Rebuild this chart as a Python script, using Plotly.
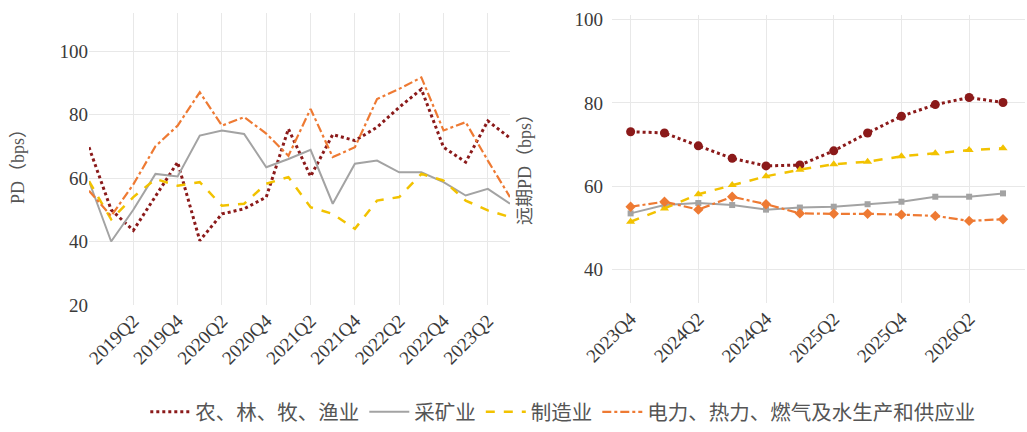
import plotly.graph_objects as go

# ---- data ----
hist_quarters = ["2018Q4", "2019Q1", "2019Q2", "2019Q3", "2019Q4", "2020Q1", "2020Q2",
                 "2020Q3", "2020Q4", "2021Q1", "2021Q2", "2021Q3", "2021Q4", "2022Q1",
                 "2022Q2", "2022Q3", "2022Q4", "2023Q1", "2023Q2", "2023Q3"]
fcst_quarters = ["2023Q4", "2024Q1", "2024Q2", "2024Q3", "2024Q4", "2025Q1",
                 "2025Q2", "2025Q3", "2025Q4", "2026Q1", "2026Q2", "2026Q3"]

hist_tick_labels = ["2019Q2", "2019Q4", "2020Q2", "2020Q4", "2021Q2", "2021Q4",
                    "2022Q2", "2022Q4", "2023Q2"]
fcst_tick_labels = ["2023Q4", "2024Q2", "2024Q4", "2025Q2", "2025Q4", "2026Q2"]

series_names = ["农、林、牧、渔业", "采矿业", "制造业", "电力、热力、燃气及水生产和供应业"]

hist_agri = [69.7, 50, 43.5, 54.2, 65, 40.3, 48.7, 50.3, 54, 75.5,
             60.5, 73.7, 71.8, 76, 82.3, 88, 69.7, 65, 78, 72.6]
hist_mining = [59, 40, 50, 61.3, 60.5, 73.4, 75, 73.9, 63.4, 66,
               68.9, 51.9, 64.5, 65.5, 61.8, 61.8, 58.7, 54.5, 56.6, 51.9]
hist_manuf = [59, 47, 54, 59.7, 57.6, 58.7, 51.3, 51.9, 58.2, 60.3,
              50.8, 48.7, 44, 52.9, 54, 61.3, 59.2, 52.9, 49.8, 47.7]
hist_utility = [56, 48, 58, 70, 76.5, 87, 76.5, 79.2, 74, 67,
                81.8, 66.6, 69.7, 84.9, 88.1, 91.7, 75, 77.6, 65.5, 54]

fcst_agri = [73.1, 72.8, 69.7, 66.7, 64.9, 65.1, 68.5, 72.8, 76.8, 79.6, 81.3, 80.1]
fcst_mining = [53.5, 55.5, 56, 55.5, 54.4, 54.9, 55.1, 55.7, 56.3, 57.5, 57.5, 58.3]
fcst_manuf = [51.5, 54.7, 58.1, 60.3, 62.4, 64.0, 65.3, 65.9, 67.2, 67.9, 68.7, 69.1]
fcst_utility = [55.1, 56.3, 54.4, 57.5, 55.7, 53.5, 53.4, 53.4, 53.2, 52.9, 51.7, 52.1]

# ---- styles ----
colors = ["#8B1A1A", "#A3A3A3", "#F2C200", "#EE7A33"]
dashes = ["dot", "solid", "dash", "dashdot"]
widths = [3, 2, 2.5, 2.2]
symbols = ["circle", "square", "triangle-up", "diamond"]
msizes = [9, 6, 8, 8]

W, H = 1027, 432
TICK_FONT = dict(family="Liberation Serif, Noto Sans CJK SC", size=19, color="#3a3a3a")
GRID = "#E8E8E8"

hist_series = [hist_agri, hist_mining, hist_manuf, hist_utility]
fcst_series = [fcst_agri, fcst_mining, fcst_manuf, fcst_utility]

fig = go.Figure()

hx = list(range(len(hist_quarters)))
fx = list(range(len(fcst_quarters)))

for k, name in enumerate(series_names):
    fig.add_trace(go.Scatter(
        x=hx, y=hist_series[k], mode="lines", name=name,
        line=dict(color=colors[k], dash=dashes[k], width=widths[k]),
        xaxis="x", yaxis="y", legendgroup=name,
        customdata=hist_quarters,
        hovertemplate="%{customdata}: %{y}<extra>" + name + "</extra>",
    ))

for k, name in enumerate(series_names):
    fig.add_trace(go.Scatter(
        x=fx, y=fcst_series[k], mode="lines+markers", name=name,
        line=dict(color=colors[k], dash=dashes[k], width=widths[k]),
        marker=dict(color=colors[k], symbol=symbols[k], size=msizes[k]),
        xaxis="x2", yaxis="y2", legendgroup=name, showlegend=False,
        customdata=fcst_quarters,
        hovertemplate="%{customdata}: %{y}<extra>" + name + "</extra>",
    ))


def px_dom(a, b, total):
    return [a / total, b / total]


hist_tickvals = [hist_quarters.index(q) for q in hist_tick_labels]
fcst_tickvals = [fcst_quarters.index(q) for q in fcst_tick_labels]

axis_common = dict(showgrid=True, gridcolor=GRID, gridwidth=1.2, zeroline=False,
                   showline=False, ticks="", tickfont=TICK_FONT, automargin=False)

TITLE_FONT = dict(family="Liberation Serif, Noto Sans CJK SC", size=18, color="#555555")

fig.update_layout(
    width=W, height=H,
    margin=dict(l=0, r=0, t=0, b=0, autoexpand=False),
    paper_bgcolor="white", plot_bgcolor="white",
    xaxis=dict(
        domain=px_dom(89, 510, W), range=[0, len(hist_quarters) - 1],
        tickvals=hist_tickvals, ticktext=hist_tick_labels, tickangle=-45,
        anchor="y", **axis_common,
    ),
    yaxis=dict(
        domain=[(H - 305) / H, (H - 13) / H], range=[20, 112],
        tickvals=[20, 40, 60, 80, 100], ticklabelstandoff=0, anchor="x",
        **axis_common,
    ),
    xaxis2=dict(
        domain=px_dom(612, 1025, W), range=[-0.55, len(fcst_quarters) - 0.35],
        tickvals=fcst_tickvals, ticktext=fcst_tick_labels, tickangle=-45,
        anchor="y2", **axis_common,
    ),
    yaxis2=dict(
        domain=[(H - 303) / H, (H - 15) / H], range=[32, 101.1],
        tickvals=[40, 60, 80, 100], ticklabelstandoff=8, anchor="x2",
        **axis_common,
    ),
    legend=dict(
        orientation="h", x=0.548, xanchor="center", y=(H - 412) / H, yanchor="middle",
        font=dict(family="Noto Sans CJK SC", size=20.5, color="#555555"),
        itemwidth=40, tracegroupgap=0, bgcolor="rgba(0,0,0,0)",
    ),
    annotations=[
        dict(text="PD（bps）", textangle=-90, x=18 / W, y=(H - 162) / H,
             xref="paper", yref="paper", xanchor="center", yanchor="middle",
             showarrow=False, font=TITLE_FONT),
        dict(text="远期PD（bps）", textangle=-90, x=525 / W, y=(H - 165) / H,
             xref="paper", yref="paper", xanchor="center", yanchor="middle",
             showarrow=False, font=TITLE_FONT),
    ],
)

fig.write_html("out.html")
